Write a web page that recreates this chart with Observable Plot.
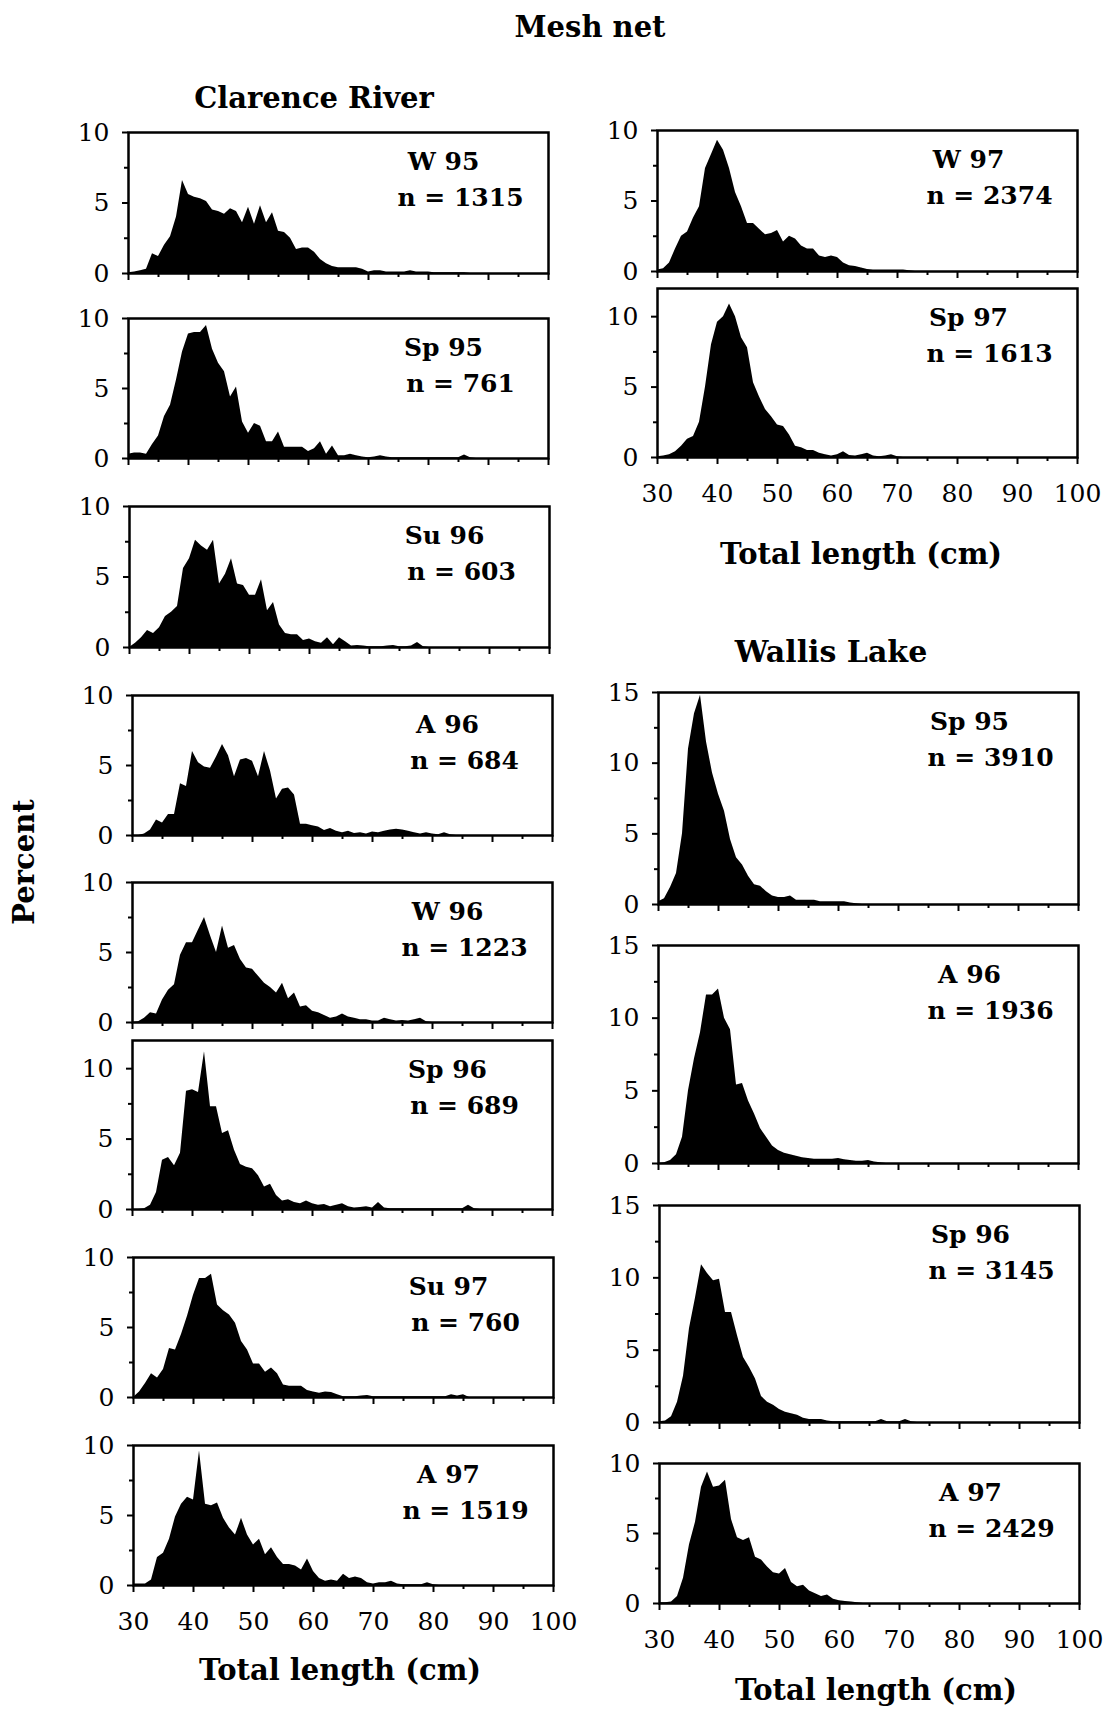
<!DOCTYPE html>
<html><head><meta charset="utf-8">
<script src="https://cdn.jsdelivr.net/npm/d3@7"></script>
<script src="https://cdn.jsdelivr.net/npm/@observablehq/plot@0.6"></script>
<style>
body{margin:0;background:#fff;}
#fig{position:relative;width:1109px;height:1711px;font-family:"DejaVu Serif",serif;color:#000;overflow:hidden;}
.lbl{position:absolute;transform:translate(-50%,-50%);white-space:nowrap;font-weight:bold;line-height:1;}
#fig svg{position:absolute;overflow:visible;}
</style></head><body><div id="fig"></div>
<script>
// ---------- data ----------
const binsCm = [30,31,32,33,34,35,36,37,38,39,40,41,42,43,44,45,46,47,48,49,50,51,52,53,54,55,56,57,58,59,60,61,62,63,64,65,66,67,68,69,70,71,72,73,74,75,76,77,78,79,80,81,82,83,84,85,86,87,88,89,90,91,92,93,94,95,96,97,98,99,100];
const xMajorTicks = [30,40,50,60,70,80,90,100];
const xMinorTicks = [35,45,55,65,75,85,95];
const yMajor10 = [0,5,10];
const yMinor10 = [2.5,7.5];
const yMajor15 = [0,5,10,15];
const yMinor15 = [2.5,7.5,12.5];

const clarenceSeasons = ["W 95","Sp 95","Su 96","A 96","W 96","Sp 96","Su 97","A 97","W 97","Sp 97"];
const clarenceN = [1315,761,603,684,1223,689,760,1519,2374,1613];
const wallisSeasons = ["Sp 95","A 96","Sp 96","A 97"];
const wallisN = [3910,1936,3145,2429];

// percent per 1-cm length class, starting at 30 cm
const crW95 = [0.05,0.1,0.2,0.3,1.4,1.2,2.0,2.6,4.0,6.6, 5.6,5.4,5.3,5.1,4.5,4.4,4.2,4.6,4.4,3.6, 4.7,3.5,4.8,3.6,4.3,3.0,2.9,2.5,1.7,1.8, 1.8,1.5,1.0,0.7,0.5,0.4,0.4,0.4,0.4,0.3, 0.1,0.2,0.2,0.1,0.1,0.1,0.1,0.2,0.1,0.1, 0.1,0.05,0.05,0.05,0.05,0.05,0.05,0];
const crSp95 = [0.3,0.4,0.4,0.3,1.0,1.6,3.0,3.8,5.6,7.6, 8.9,9.0,9.0,9.5,7.8,6.8,6.2,4.4,5.1,2.6, 1.8,2.5,2.3,1.2,1.2,1.9,0.8,0.8,0.8,0.8, 0.5,0.7,1.2,0.3,0.9,0.2,0.2,0.3,0.2,0.1, 0.05,0.1,0.2,0.1,0.05,0.05,0.05,0.05,0.05,0.05, 0.05,0.05,0.05,0.05,0.05,0.05,0.25,0.05,0];
const crSu96 = [0,0.3,0.7,1.2,1.0,1.4,2.2,2.5,2.9,5.6, 6.3,7.6,7.2,6.9,7.6,4.5,5.2,6.3,4.5,4.4, 3.7,3.7,4.8,2.6,3.2,1.6,1.0,0.9,0.9,0.5, 0.6,0.4,0.3,0.7,0.2,0.7,0.4,0.1,0.15,0.1, 0.05,0.05,0.05,0.1,0.15,0.05,0.05,0.1,0.35,0.05,0];
const crA96 = [0,0,0.1,0.4,1.1,0.9,1.5,1.5,3.7,3.5, 6.0,5.2,4.9,4.8,5.6,6.5,5.7,4.2,5.4,5.5, 5.3,4.2,6.0,4.6,2.6,3.3,3.4,2.9,0.8,0.8, 0.7,0.6,0.35,0.5,0.3,0.2,0.3,0.15,0.2,0.1, 0.25,0.2,0.3,0.4,0.45,0.4,0.3,0.2,0.1,0.2, 0.1,0.05,0.2,0.05,0];
const crW96 = [0,0.05,0.3,0.7,0.6,1.6,2.3,2.7,4.8,5.7, 5.7,6.6,7.5,6.2,5.0,6.9,5.3,5.5,4.5,3.9, 3.8,3.3,2.8,2.5,2.1,2.8,1.7,2.1,1.1,1.2, 0.8,0.7,0.5,0.3,0.4,0.6,0.4,0.3,0.2,0.2, 0.1,0.1,0.3,0.2,0.1,0.15,0.1,0.2,0.3,0.05,0];
const crSp96 = [0,0,0.05,0.3,1.2,3.5,3.7,3.1,4.0,8.4, 8.5,8.3,11.2,7.3,7.3,5.4,5.6,4.2,3.2,3.0, 2.9,2.4,1.6,1.8,1.0,0.6,0.7,0.5,0.4,0.6, 0.4,0.3,0.35,0.2,0.3,0.4,0.2,0.1,0.15,0.2, 0.1,0.5,0.1,0.05,0.05,0.05,0.05,0.05,0.05,0.05, 0.05,0.05,0.05,0.05,0.05,0.05,0.3,0.05,0];
const crSu97 = [0,0.4,1.0,1.7,1.4,2.0,3.5,3.4,4.5,5.8, 7.3,8.5,8.5,8.8,6.6,6.2,5.9,5.3,4.0,3.4, 2.4,2.4,1.8,2.1,1.7,0.9,0.8,0.8,0.8,0.5, 0.4,0.3,0.4,0.35,0.2,0.05,0.05,0.05,0.1,0.15, 0.05,0.05,0.05,0.05,0.05,0.05,0.05,0.05,0.05,0.05, 0.05,0.05,0.05,0.2,0.1,0.2,0];
const crA97 = [0.1,0.1,0.1,0.4,2.0,2.3,3.3,4.9,5.8,6.3, 6.1,9.6,5.8,5.7,5.9,4.8,4.1,3.6,4.8,3.6, 2.9,3.3,2.2,2.7,2.0,1.5,1.5,1.4,1.1,1.9, 1.0,0.5,0.3,0.4,0.3,0.8,0.5,0.6,0.5,0.2, 0.1,0.2,0.2,0.3,0.1,0.05,0.05,0.05,0.05,0.2, 0.05,0];
const crW97 = [0.1,0.2,0.6,1.6,2.5,2.8,3.8,4.6,7.3,8.3, 9.3,8.6,7.3,5.6,4.6,3.4,3.4,3.0,2.6,2.7, 2.9,2.1,2.5,2.3,1.8,1.6,1.6,1.1,1.0,1.1, 1.0,0.6,0.4,0.35,0.25,0.15,0.1,0.1,0.1,0.1, 0.1,0.1,0.05,0];
const crSp97 = [0.05,0.1,0.2,0.4,0.8,1.3,1.5,2.5,5.0,8.0, 9.6,10.0,10.9,10.0,8.5,7.8,5.3,4.3,3.4,2.9, 2.3,2.2,1.6,0.8,0.7,0.5,0.5,0.3,0.2,0.1, 0.2,0.4,0.15,0.1,0.2,0.3,0.1,0.05,0.1,0.2, 0.05,0];
const wlSp95 = [0.2,0.4,1.2,2.2,5.0,11.0,13.5,14.8,11.5,9.3, 7.8,6.6,4.6,3.3,2.8,2.0,1.4,1.3,0.9,0.6, 0.5,0.5,0.6,0.3,0.3,0.3,0.3,0.2,0.2,0.2, 0.2,0.2,0.1,0.05,0];
const wlA96 = [0,0.05,0.2,0.6,1.8,5.0,7.2,9.0,11.6,11.6, 12.0,10.0,9.2,5.4,5.5,4.3,3.4,2.4,1.8,1.2, 0.9,0.7,0.6,0.5,0.4,0.35,0.3,0.3,0.3,0.3, 0.35,0.25,0.2,0.15,0.15,0.2,0.1,0.05,0];
const wlSp96 = [0.05,0.1,0.4,1.4,3.2,6.5,8.6,10.9,10.3,9.8, 9.9,7.6,7.6,6.0,4.5,3.8,3.0,1.8,1.4,1.2, 0.9,0.7,0.6,0.5,0.3,0.2,0.2,0.2,0.1,0.05, 0.05,0.05,0.05,0.05,0.05,0.05,0.05,0.2,0.05,0.05, 0.05,0.2,0.05,0];
const wlA97 = [0.05,0.05,0.1,0.5,1.8,4.2,5.8,8.3,9.4,8.3, 8.4,8.8,6.0,4.7,4.5,4.7,3.3,3.1,2.6,2.2, 2.1,2.5,1.5,1.2,1.3,0.9,0.7,0.5,0.6,0.3, 0.2,0.15,0.1,0.05,0];

// ---------- layout ----------
const fig = document.getElementById("fig");
const FONT = "'DejaVu Serif', serif";

function drawPanel(values, season, n, cfg) {
  const data = values.map((v, i) => ({len: binsCm[i], pct: v}));
  const ml = 90, mr = 14, mt = 8, mb = cfg.xLabels ? 64 : 14;
  const majors = cfg.ymax >= 15 ? yMajor15 : yMajor10;
  const minors = cfg.ymax >= 15 ? yMinor15 : yMinor10;
  const svg = Plot.plot({
    width: 420 + ml + mr,
    height: cfg.h + mt + mb,
    marginLeft: ml, marginRight: mr, marginTop: mt, marginBottom: mb,
    style: {fontFamily: FONT, fontSize: "25px", background: "transparent", overflow: "visible", color: "black"},
    x: {domain: [30, 100]},
    y: {domain: [0, cfg.ymax]},
    marks: [
      Plot.areaY(data, {x: "len", y: "pct", fill: "black"}),
      Plot.axisY(minors, {tickSize: 4, tickFormat: () => "", strokeWidth: 2, label: null}),
      Plot.axisY(majors, {tickSize: 6, tickPadding: 13, strokeWidth: 2, label: null, tickFormat: d => String(d)}),
      Plot.axisX(xMinorTicks, {tickSize: 4, tickFormat: () => "", strokeWidth: 2, label: null}),
      Plot.axisX(xMajorTicks, {tickSize: 7, tickPadding: 20, strokeWidth: 2, label: null,
        tickFormat: cfg.xLabels ? d => String(d) : () => ""}),
      Plot.frame({stroke: "black", strokeWidth: 2.5}),
      Plot.text([season], {text: d => d, frameAnchor: "top-left", dx: cfg.dx1, dy: 29,
        textAnchor: "middle", lineAnchor: "middle", fontSize: 25, fontWeight: "bold"}),
      Plot.text([`n = ${n}`], {text: d => d, frameAnchor: "top-left", dx: cfg.dx2, dy: 65,
        textAnchor: "middle", lineAnchor: "middle", fontSize: 25, fontWeight: "bold"})
    ]
  });
  svg.style.left = (cfg.left - ml) + "px";
  svg.style.top = (cfg.top - mt) + "px";
  fig.append(svg);
}

function label(text, x, y, size, rotate) {
  const d = document.createElement("div");
  d.className = "lbl";
  d.textContent = text;
  d.style.left = x + "px";
  d.style.top = y + "px";
  d.style.fontSize = size + "px";
  if (rotate) d.style.transform = "translate(-50%,-50%) rotate(-90deg)";
  fig.append(d);
}

const clarenceSeries = [crW95, crSp95, crSu96, crA96, crW96, crSp96, crSu97, crA97, crW97, crSp97];
const clarenceLayout = [
  {left: 128, top: 132, h: 141, ymax: 10},
  {left: 128, top: 318, h: 140, ymax: 10},
  {left: 129, top: 506, h: 141, ymax: 10},
  {left: 132, top: 695, h: 140, ymax: 10},
  {left: 132, top: 882, h: 140, ymax: 10},
  {left: 132, top: 1040, h: 169, ymax: 12},
  {left: 133, top: 1257, h: 140, ymax: 10},
  {left: 133, top: 1445, h: 140, ymax: 10, xLabels: true},
  {left: 657, top: 130, h: 141, ymax: 10},
  {left: 657, top: 288, h: 169, ymax: 12, xLabels: true}
];
clarenceSeries.forEach((s, i) => {
  const cfg = Object.assign({dx1: i < 8 ? 315 : 311, dx2: 332}, clarenceLayout[i]);
  drawPanel(s, clarenceSeasons[i], clarenceN[i], cfg);
});

const wallisSeries = [wlSp95, wlA96, wlSp96, wlA97];
const wallisLayout = [
  {left: 658, top: 692, h: 212, ymax: 15},
  {left: 658, top: 945, h: 218, ymax: 15},
  {left: 659, top: 1205, h: 217, ymax: 15},
  {left: 659, top: 1463, h: 140, ymax: 10, xLabels: true}
];
wallisSeries.forEach((s, i) => {
  const cfg = Object.assign({dx1: 311, dx2: 332}, wallisLayout[i]);
  drawPanel(s, wallisSeasons[i], wallisN[i], cfg);
});

label("Mesh net", 590, 27, 29);
label("Clarence River", 314, 98, 29);
label("Wallis Lake", 831, 652, 30);
label("Total length (cm)", 340, 1670, 29);
label("Total length (cm)", 861, 554, 29);
label("Total length (cm)", 876, 1690, 29);
label("Percent", 24, 862, 29, true);
</script></body></html>
